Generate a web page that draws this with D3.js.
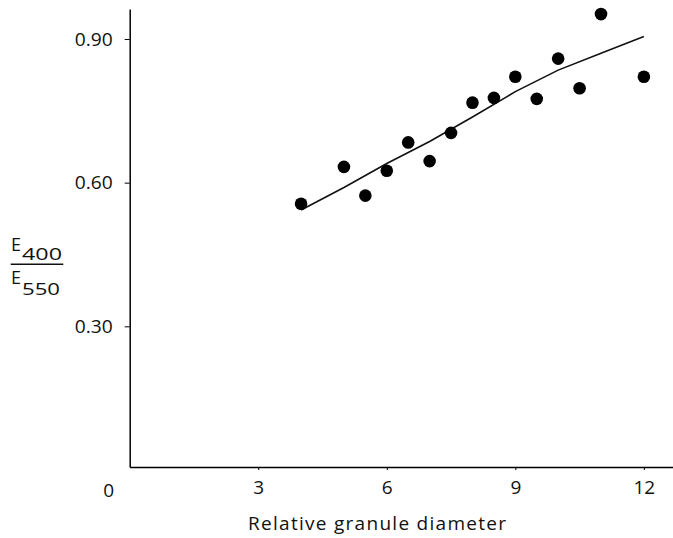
<!DOCTYPE html>
<meta charset="utf-8">
<head>
  <script src="https://d3js.org/d3.v7.min.js"></script>
  <style>
    body { margin: 0; background: #fff; }
    text { font-family: "Open Sans", "DejaVu Sans", sans-serif; fill: #111; }
  </style>
</head>
<body>
<div id="display"></div>
<script>

// granule diameter vs E400/E550
var diam  = [4, 5, 5.5, 6, 6.5, 7, 7.5, 8, 8.5, 9, 9.5, 10, 10.5, 11, 12];
var ratio = [0.556, 0.633, 0.573, 0.625, 0.684, 0.645, 0.704, 0.767, 0.777, 0.821, 0.775, 0.859, 0.797, 0.952, 0.821];

// hand drawn fit line
var fitX = [4, 5, 6, 7, 8, 9, 10, 11, 12];
var fitY = [0.543, 0.59, 0.64, 0.686, 0.737, 0.79, 0.835, 0.87, 0.905];

var xTicks = [3, 6, 9, 12];
var yTicks = [0.30, 0.60, 0.90];

var width = 673, height = 538;

var svg = d3.select("#display")
  .append("svg")
    .attr("width", width)
    .attr("height", height);

var x = d3.scaleLinear()
  .domain([0, 12.68])
  .range([129.7, 673]);

var y = d3.scaleLinear()
  .domain([0.00626, 0.9626])
  .range([467, 9]);

// x axis
var xAxis = svg.append("g")
  .attr("transform", "translate(0," + y.range()[0] + ")")
  .call(d3.axisBottom(x).tickValues(xTicks).tickSize(3).tickSizeOuter(0)
    .tickPadding(11).tickFormat(d3.format("d")));
xAxis.select(".domain").attr("stroke-width", 1.5);
xAxis.selectAll("text").style("font-size", "19px");

// the shared origin label
svg.append("text")
  .attr("x", x(0) - 21)
  .attr("y", 497)
  .attr("text-anchor", "middle")
  .style("font-size", "19px")
  .text("0");

// y axis
var yAxis = svg.append("g")
  .attr("transform", "translate(" + x(0) + ",0)")
  .call(d3.axisLeft(y).tickValues(yTicks).tickSize(5).tickSizeOuter(0)
    .tickPadding(12).tickFormat(d3.format(".2f")));
yAxis.select(".domain").attr("stroke-width", 1.5);
yAxis.selectAll("text")
  .style("font-size", "19px")
  .attr("textLength", 38)
  .attr("lengthAdjust", "spacingAndGlyphs");

// fit line
var line = d3.line()
  .x(function(d, i) { return x(fitX[i]); })
  .y(function(d) { return y(d); });

svg.append("path")
  .datum(fitY)
  .attr("d", line)
  .attr("fill", "none")
  .attr("stroke", "#111")
  .attr("stroke-width", 1.6);

// points
svg.selectAll("circle")
  .data(ratio)
  .enter()
  .append("circle")
    .attr("cx", function(d, i) { return x(diam[i]); })
    .attr("cy", function(d) { return y(d); })
    .attr("r", 6.3)
    .attr("fill", "#000");

// axis title
svg.append("text")
  .attr("x", 248)
  .attr("y", 530)
  .attr("textLength", 258)
  .attr("lengthAdjust", "spacing")
  .style("font-size", "19px")
  .text("Relative granule diameter");

// y label as a fraction E400 / E550
var lab = svg.append("g");
lab.append("text").attr("x", 11).attr("y", 251).style("font-size", "18px")
  .attr("textLength", 10).attr("lengthAdjust", "spacingAndGlyphs").text("E");
lab.append("text").attr("x", 22).attr("y", 260).style("font-size", "16px")
  .attr("textLength", 40).attr("lengthAdjust", "spacingAndGlyphs").text("400");
lab.append("line")
  .attr("x1", 10.7).attr("x2", 63.3)
  .attr("y1", 264.3).attr("y2", 264.3)
  .attr("stroke", "#111").attr("stroke-width", 1.5);
lab.append("text").attr("x", 11).attr("y", 284).style("font-size", "18px")
  .attr("textLength", 10).attr("lengthAdjust", "spacingAndGlyphs").text("E");
lab.append("text").attr("x", 22).attr("y", 295).style("font-size", "16px")
  .attr("textLength", 38).attr("lengthAdjust", "spacingAndGlyphs").text("550");

</script>
</body>
